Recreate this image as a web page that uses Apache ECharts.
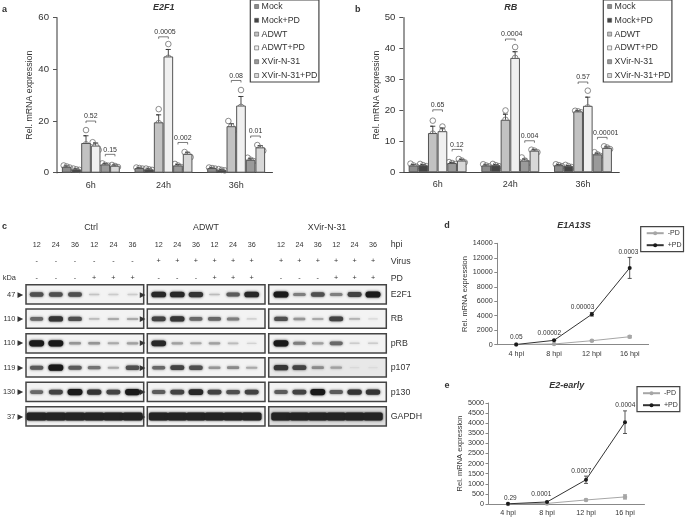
<!DOCTYPE html>
<html>
<head>
<meta charset="utf-8">
<style>
  html, body { margin: 0; padding: 0; background: #fff; }
  #main { width: 685px; height: 517px; }
</style>
<script src="https://cdn.jsdelivr.net/npm/echarts@6/dist/echarts.min.js"></script>
</head>
<body>
<div id="main"></div>
<script>
// bar panels: one row per treatment, one value per time point
var timePoints = ['6h', '24h', '36h'];
var treatments = ['Mock', 'Mock+PD', 'ADWT', 'ADWT+PD', 'XVir-N-31', 'XVir-N-31+PD'];

var e2f1Means = [[2.3, 1.8, 1.8], [1.3, 1.3, 1.1], [11.5, 19.5, 18], [10.5, 45, 26], [3.2, 2.8, 5], [2.7, 7.3, 9.8]];
var e2f1Errs = [[0.3, 0.1, 0.1], [0.2, 0.2, 0.2], [2.8, 2.9, 1], [1, 2.7, 3.5], [0.3, 0.4, 0.4], [0.3, 0.6, 0.7]];
var e2f1Reps = [
  [[2.8, 2.4, 2.0], [2, 1.8, 1.6], [2, 1.8, 1.6]],
  [[1.6, 1.3, 1.1], [1.6, 1.3, 1.1], [1.4, 1.1, 0.9]],
  [[16.5, 11, 7.3], [24.6, 19.2, 14.9], [20, 18, 16.5]],
  [[11.8, 10.5, 8.8], [49.8, 44.5, 40.7], [32, 25.5, 20.5]],
  [[3.6, 3, 2.7], [3.4, 2.8, 2.2], [5.8, 5, 4.5]],
  [[3, 2.6, 2.2], [8, 7, 6], [10.7, 9.5, 8.5]]
];
var e2f1BracketY = [[20, 52.6, 35.7], [7.1, 11.7, 14.2]];
var e2f1PValues = [['0.52', '0.0005', '0.08'], ['0.15', '0.002', '0.01']];

var rbMeans = [[2.2, 2.2, 2.3], [2.3, 2.3, 2.0], [12.7, 17, 19.7], [13.3, 37, 21.5], [3, 3.8, 5.8], [3.8, 7, 7.9]];
var rbErrs = [[0.3, 0.2, 0.2], [0.2, 0.2, 0.2], [2.2, 1.8, 0.2], [1, 2, 2.8], [0.2, 0.5, 0.4], [0.4, 0.3, 0.3]];
var rbReps = [
  [[2.8, 2.2, 1.8], [2.6, 2.2, 1.9], [2.6, 2.3, 2]],
  [[2.7, 2.3, 2], [2.7, 2.3, 2], [2.4, 2, 1.7]],
  [[16.7, 12.5, 9], [20, 17, 14], [19.9, 19.7, 19.4]],
  [[14.8, 13.5, 11.8], [40.5, 37, 33.2], [26.4, 21, 16.7]],
  [[3.3, 3, 2.7], [4.8, 3.8, 3], [6.5, 5.8, 5.3]],
  [[4.3, 3.8, 3.2], [7.3, 7, 6.5], [8.4, 8, 7.5]]
];
var rbBracketY = [[20.2, 43.1, 29.2], [7.4, 10.2, 11.3]];
var rbPValues = [['0.65', '0.0004', '0.57'], ['0.12', '0.004', '0.00001']];

// line panels
var hpiLabels = ['4 hpi', '8 hpi', '12 hpi', '16 hpi'];
var e1aMinus = [20, 100, 550, 1100];
var e1aMinusErr = [10, 30, 80, 150];
var e1aPlus = [30, 600, 4200, 10600];
var e1aPlusErr = [10, 50, 250, 1450];
var e1aP = ['0.05', '0.00002', '0.00003', '0.0003'];
var e2Minus = [5, 30, 200, 350];
var e2MinusErr = [2, 10, 40, 100];
var e2Plus = [10, 100, 1200, 4050];
var e2PlusErr = [3, 30, 180, 560];
var e2P = ['0.29', '0.0001', '0.0007', '0.0004'];

// western blot, band darkness per protein row and lane (0 to 1)
var proteins = ['E2F1', 'RB', 'pRB', 'p107', 'p130', 'GAPDH'];
var kDa = ['47', '110', '110', '119', '130', '37'];
var laneHpi = ['12', '24', '36', '12', '24', '36'];
var blotCtrl = [
  [0.8, 0.8, 0.8, 0.25, 0.2, 0.2],
  [0.7, 0.9, 0.8, 0.3, 0.4, 0.4],
  [1, 1, 0.5, 0.5, 0.4, 0.45],
  [0.75, 1, 0.75, 0.65, 0.4, 0.8],
  [0.7, 0.85, 1, 0.9, 0.85, 1],
  [1, 1, 1, 1, 1, 1]
];
var blotAdwt = [
  [0.95, 0.95, 0.9, 0.3, 0.75, 0.95],
  [0.85, 0.9, 0.7, 0.7, 0.6, 0.2],
  [0.95, 0.45, 0.4, 0.45, 0.3, 0.15],
  [0.7, 0.85, 0.8, 0.5, 0.55, 0.4],
  [0.75, 0.85, 0.95, 0.85, 0.8, 0.85],
  [1, 1, 1, 1, 1, 1]
];
var blotXvir = [
  [1, 0.6, 0.8, 0.6, 0.85, 1],
  [0.8, 0.5, 0.4, 0.85, 0.35, 0.1],
  [1, 0.6, 0.45, 0.7, 0.2, 0.2],
  [0.9, 0.85, 0.55, 0.45, 0.1, 0.08],
  [0.75, 0.85, 1, 0.75, 0.9, 0.9],
  [1, 1, 1, 1, 1, 1]
];

var barColors = ['#8c8c8c', '#454545', '#c2c2c2', '#f0f0f0', '#9a9a9a', '#d8d8d8'];
var BAR = 9.65;
var TEXT = '#333';
var grids = [], xAxes = [], yAxes = [], series = [], graphics = [];

function plainNumber(v) { return String(v); }

function text(str, x, y, size, opts) {
  graphics.push({
    type: 'text', x: x, y: y, silent: true,
    style: Object.assign({ text: str, fontSize: size, fill: TEXT, align: 'center', verticalAlign: 'middle', fontFamily: 'Liberation Sans' }, opts || {})
  });
}

function yValueAxis(grid, max, interval, name, size, nameGap, opt) {
  return Object.assign({
    type: 'value', gridIndex: grid, min: 0, max: max, interval: interval,
    name: name, nameLocation: 'middle', nameGap: nameGap,
    nameTextStyle: { fontSize: size, color: TEXT },
    splitLine: { show: false },
    axisLine: { show: true, lineStyle: { color: '#777', width: 1.5 } },
    axisTick: { show: true, length: 4, lineStyle: { color: '#555' } },
    axisLabel: { fontSize: 9.6, color: TEXT, margin: 8, formatter: plainNumber }
  }, opt || {});
}

// grouped bars with replicate circles, upper error bars and p value brackets
function barPanel(box, name, yMax, yStep, yOffset, means, errs, reps, bracketY, pValues) {
  var g = grids.length;
  grids.push(box);
  xAxes.push({
    type: 'category', gridIndex: g, data: timePoints,
    axisLine: { lineStyle: { color: '#444', width: 1 } },
    axisTick: { alignWithLabel: true, length: 4, lineStyle: { color: '#444' } },
    axisLabel: { fontSize: 9, color: TEXT, margin: 8 }
  });
  yAxes.push(yValueAxis(g, yMax, yStep, name, 8.8, 22, { offset: yOffset }));

  treatments.forEach(function (t, i) {
    series.push({
      type: 'bar', name: t, xAxisIndex: g, yAxisIndex: g, data: means[i],
      barWidth: BAR, barGap: '0%',
      itemStyle: { color: barColors[i], borderColor: '#555', borderWidth: 1 }
    });
  });

  var errData = [], repData = [];
  means.forEach(function (row, i) {
    row.forEach(function (v, c) {
      errData.push([c, i, v, errs[i][c]]);
      var r = reps[i][c];
      var tight = Math.max.apply(null, r) - Math.min.apply(null, r) < yMax * 0.06;
      r.forEach(function (p, k) { repData.push([c, i, p, tight ? k - 1 : 0]); });
    });
  });
  series.push({
    type: 'custom', xAxisIndex: g, yAxisIndex: g, data: errData, clip: false, encode: { x: 0, y: 2 },
    renderItem: function (params, api) {
      var x = api.coord([api.value(0), 0])[0] + (api.value(1) - 2.5) * BAR;
      var y0 = api.coord([0, api.value(2)])[1];
      var y1 = api.coord([0, api.value(2) + api.value(3)])[1];
      return {
        type: 'polyline',
        shape: { points: [[x, y0], [x, y1], [x - 2.5, y1], [x + 2.5, y1]] },
        style: { stroke: '#333', lineWidth: 0.9, fill: null }
      };
    }
  });
  series.push({
    type: 'custom', xAxisIndex: g, yAxisIndex: g, data: repData, clip: false, encode: { x: 0, y: 2 },
    renderItem: function (params, api) {
      var x = api.coord([api.value(0), 0])[0] + (api.value(1) - 2.5) * BAR + api.value(3) * 3;
      return {
        type: 'circle',
        shape: { cx: x, cy: api.coord([0, api.value(2)])[1], r: 2.8 },
        style: { stroke: '#707070', lineWidth: 0.8, fill: null }
      };
    }
  });

  var brData = [];
  bracketY.forEach(function (row, side) {
    row.forEach(function (v, c) { brData.push([c, side, v]); });
  });
  series.push({
    type: 'custom', xAxisIndex: g, yAxisIndex: g, data: brData, clip: false, encode: { x: 0, y: 2 },
    renderItem: function (params, api) {
      var first = api.value(1) === 0 ? 2 : 4;
      var base = api.coord([api.value(0), 0])[0];
      var x0 = base + (first - 2.5) * BAR;
      var x1 = x0 + BAR;
      var y = api.coord([0, api.value(2)])[1];
      var label = pValues[api.value(1)][api.value(0)];
      // long p values sit a little right so they clear the taller neighbour bar
      var shift = label.length > 6 ? 3.5 : label.length > 5 ? 1.5 : 0;
      return {
        type: 'group',
        children: [
          {
            type: 'polyline',
            shape: { points: [[x0, y + 2], [x0, y], [x1, y], [x1, y + 2]] },
            style: { stroke: '#444', lineWidth: 0.7, fill: null }
          },
          {
            type: 'text', x: (x0 + x1) / 2 + shift, y: y - 1,
            style: {
              text: label, fontSize: 7, fill: TEXT,
              align: 'center', verticalAlign: 'bottom', fontFamily: 'Liberation Sans'
            }
          }
        ]
      };
    }
  });
}

function errorSeries(g, values, errs, color) {
  series.push({
    type: 'custom', xAxisIndex: g, yAxisIndex: g, clip: false, encode: { x: 0, y: 1 },
    data: values.map(function (v, i) { return [i, v, errs[i]]; }),
    renderItem: function (params, api) {
      var x = api.coord([api.value(0), 0])[0];
      var hi = api.coord([0, api.value(1) + api.value(2)])[1];
      var lo = api.coord([0, api.value(1) - api.value(2)])[1];
      return {
        type: 'group',
        children: [
          { type: 'line', shape: { x1: x, y1: hi, x2: x, y2: lo }, style: { stroke: color, lineWidth: 0.9 } },
          { type: 'line', shape: { x1: x - 2, y1: hi, x2: x + 2, y2: hi }, style: { stroke: color, lineWidth: 0.9 } },
          { type: 'line', shape: { x1: x - 2, y1: lo, x2: x + 2, y2: lo }, style: { stroke: color, lineWidth: 0.9 } }
        ]
      };
    }
  });
}

function linePanel(box, yMax, yStep, nameGap, minus, minusErr, plus, plusErr, pLabels, offsets) {
  var g = grids.length;
  grids.push(box);
  xAxes.push({
    type: 'category', gridIndex: g, data: hpiLabels,
    axisLine: { lineStyle: { color: '#888', width: 1 } },
    axisTick: { length: 3, lineStyle: { color: '#888' } },
    axisLabel: { fontSize: 7.2, color: TEXT, margin: 6 }
  });
  yAxes.push(yValueAxis(g, yMax, yStep, 'Rel. mRNA expression', 7.5, nameGap, {
    axisLine: { show: true, lineStyle: { color: '#888', width: 1 } },
    axisTick: { show: true, length: 3, lineStyle: { color: '#888' } },
    axisLabel: { fontSize: 7.2, color: TEXT, margin: 4.5, formatter: plainNumber }
  }));
  errorSeries(g, minus, minusErr, '#777');
  errorSeries(g, plus, plusErr, '#444');
  series.push({
    type: 'line', name: '-PD', xAxisIndex: g, yAxisIndex: g, data: minus,
    symbol: 'circle', symbolSize: 4.5,
    lineStyle: { color: '#a6a6a6', width: 1 }, itemStyle: { color: '#a6a6a6' }
  });
  series.push({
    type: 'line', name: '+PD', xAxisIndex: g, yAxisIndex: g,
    data: plus.map(function (v, i) {
      return { value: v, label: { offset: offsets[i] } };
    }),
    symbol: 'circle', symbolSize: 4,
    lineStyle: { color: '#333', width: 1 }, itemStyle: { color: '#1a1a1a' },
    label: {
      show: true, position: 'top', distance: 2, fontSize: 6.5, color: TEXT,
      formatter: function (p) { return pLabels[p.dataIndex]; }
    }
  });
}

// one grid per blot column, lanes on x and proteins on y
var rowTops = [284.7, 309, 333.7, 357.7, 382.3, 406.7];
function blotPanel(frameLeft, frameWidth, laneLeft, laneWidth, values, virus, pd, yData, yPos, rowBg) {
  rowTops.forEach(function (top, r) {
    graphics.push({
      type: 'rect', silent: true, z: 0,
      shape: { x: frameLeft, y: top, width: frameWidth, height: 19.3 },
      style: { fill: rowBg && rowBg[r] || '#f3f3f3', stroke: '#444', lineWidth: 1.5 }
    });
  });
  var g = grids.length;
  grids.push({ left: laneLeft, width: laneWidth, top: 282.3, height: 146.4 });
  xAxes.push({
    type: 'category', gridIndex: g, position: 'top',
    data: laneHpi.map(function (h, i) { return h + '\n' + virus[i] + '\n' + pd[i]; }),
    axisLine: { show: false }, axisTick: { show: false },
    axisLabel: { interval: 0, fontSize: 7.2, lineHeight: 16.6, color: TEXT, margin: -4 }
  });
  yAxes.push({
    type: 'category', gridIndex: g, inverse: true, data: yData, position: yPos,
    axisLine: { show: false }, axisTick: { show: false },
    axisLabel: yPos === 'right'
      ? { fontSize: 8.8, color: TEXT, margin: 8.5, interval: 0 }
      : { fontSize: 7.4, color: TEXT, margin: 4, interval: 0, formatter: '{value} \u25B6', fontFamily: 'Liberation Sans, DejaVu Sans' }
  });
  var cells = [];
  values.forEach(function (row, r) {
    row.forEach(function (v, l) { cells.push([l, r, v]); });
  });
  series.push({
    type: 'custom', xAxisIndex: g, yAxisIndex: g, data: cells, clip: false, encode: { x: 0, y: 1 },
    renderItem: function (params, api) {
      var c = api.coord([api.value(0), api.value(1)]);
      var i = api.value(2);
      var isLoading = api.value(1) === 5;
      var w = isLoading ? api.size([1, 0])[0] + 1 : 9 + 6 * i;
      var h = isLoading ? 8 : 1.2 + 5 * i * i;
      var level = isLoading ? 35 : Math.round(225 - Math.pow(i, 1.4) * 200);
      var col = 'rgb(' + level + ',' + level + ',' + level + ')';
      return {
        type: 'rect',
        shape: { x: c[0] - w / 2, y: c[1] - h / 2, width: w, height: h, r: isLoading ? 2 : h / 2 },
        style: { fill: col, shadowBlur: 2.5, shadowColor: col }
      };
    }
  });
}

barPanel({ left: 54.5, width: 218, top: 17.7, height: 155 }, 'Rel. mRNA expression', 60, 20, -2.5,
  e2f1Means, e2f1Errs, e2f1Reps, e2f1BracketY, e2f1PValues);
barPanel({ left: 401.3, width: 218, top: 17.7, height: 154.6 }, 'Rel. mRNA expression', 50, 10, -2,
  rbMeans, rbErrs, rbReps, rbBracketY, rbPValues);

linePanel({ left: 497.3, width: 151.3, top: 243.3, height: 101.4 }, 14000, 2000, 21,
  e1aMinus, e1aMinusErr, e1aPlus, e1aPlusErr, e1aP, [[0, 0], [-4.7, 0], [-9.3, 0], [-1.3, -8]]);
linePanel({ left: 488.5, width: 156, top: 403, height: 101.7 }, 5000, 500, 19,
  e2Minus, e2MinusErr, e2Plus, e2PlusErr, e2P, [[2.3, 2], [-5.7, 0], [-4.7, -1.5], [0.3, -9]]);

var allMinus = ['-', '-', '-', '-', '-', '-'];
var allPlus = ['+', '+', '+', '+', '+', '+'];
var pdRow = ['-', '-', '-', '+', '+', '+'];
blotPanel(26, 117.7, 26.35, 115.8, blotCtrl, allMinus, pdRow, kDa, 'left');
blotPanel(147.3, 117.7, 149.4, 111.6, blotAdwt, allPlus, pdRow, kDa.map(function () { return ''; }), 'left');
blotPanel(268.7, 117.6, 271.8, 110.4, blotXvir, allPlus, pdRow, proteins, 'right',
  [null, null, null, '#e8e8e8', null, '#dedede']);

// panel letters and blot headings
text('a', 2, 10, 9, { fontWeight: 'bold', align: 'left' });
text('b', 355, 10, 9, { fontWeight: 'bold', align: 'left' });
text('c', 2, 227, 9, { fontWeight: 'bold', align: 'left' });
text('d', 447, 226, 9, { fontWeight: 'bold', align: 'center' });
text('e', 447, 386, 9, { fontWeight: 'bold', align: 'center' });
text('Ctrl', 91, 227.7, 8.8);
text('ADWT', 206, 227.7, 8.8);
text('XVir-N-31', 327, 227.7, 8.8);
text('hpi', 390.7, 245, 8.8, { align: 'left' });
text('Virus', 390.7, 261.7, 8.8, { align: 'left' });
text('PD', 390.7, 278.3, 8.8, { align: 'left' });
text('kDa', 2.7, 278.3, 7.4, { align: 'left' });

function chartTitle(str, x, y) {
  return {
    text: str, left: x, top: y, textAlign: 'center', padding: 0,
    textStyle: { fontSize: 9, fontWeight: 'bold', fontStyle: 'italic', color: TEXT, fontFamily: 'Liberation Sans' }
  };
}

function barLegend(left) {
  return {
    left: left, top: 0, orient: 'vertical', data: treatments, icon: 'rect',
    itemWidth: 4, itemHeight: 4, itemGap: 4.8, padding: [2, 1.5, 2, 4],
    borderColor: '#444', borderWidth: 1.2, selectedMode: false,
    itemStyle: { borderWidth: 0.6 },
    textStyle: { fontSize: 8.8, color: TEXT, padding: [0, 0, 0, -2] }
  };
}

function lineLegend(left, top) {
  return {
    left: left, top: top, orient: 'vertical', data: ['-PD', '+PD'],
    itemWidth: 17, itemHeight: 5, itemGap: 5, padding: [3, 2, 3, 5],
    borderColor: '#444', borderWidth: 1.2, selectedMode: false,
    textStyle: { fontSize: 7, color: TEXT, padding: [0, 0, 0, -1] }
  };
}

var chart = echarts.init(document.getElementById('main'));
chart.setOption({
  animation: false,
  textStyle: { fontFamily: 'Liberation Sans' },
  title: [
    chartTitle('E2F1', 163.7, 3),
    chartTitle('RB', 510.7, 3),
    chartTitle('E1A13S', 574, 221),
    chartTitle('E2-early', 566.7, 381)
  ],
  legend: [barLegend(250.3), barLegend(603.3), lineLegend(640.7, 226.7), lineLegend(637, 386.7)],
  grid: grids,
  xAxis: xAxes,
  yAxis: yAxes,
  series: series,
  graphic: { elements: graphics }
});
</script>
</body>
</html>
